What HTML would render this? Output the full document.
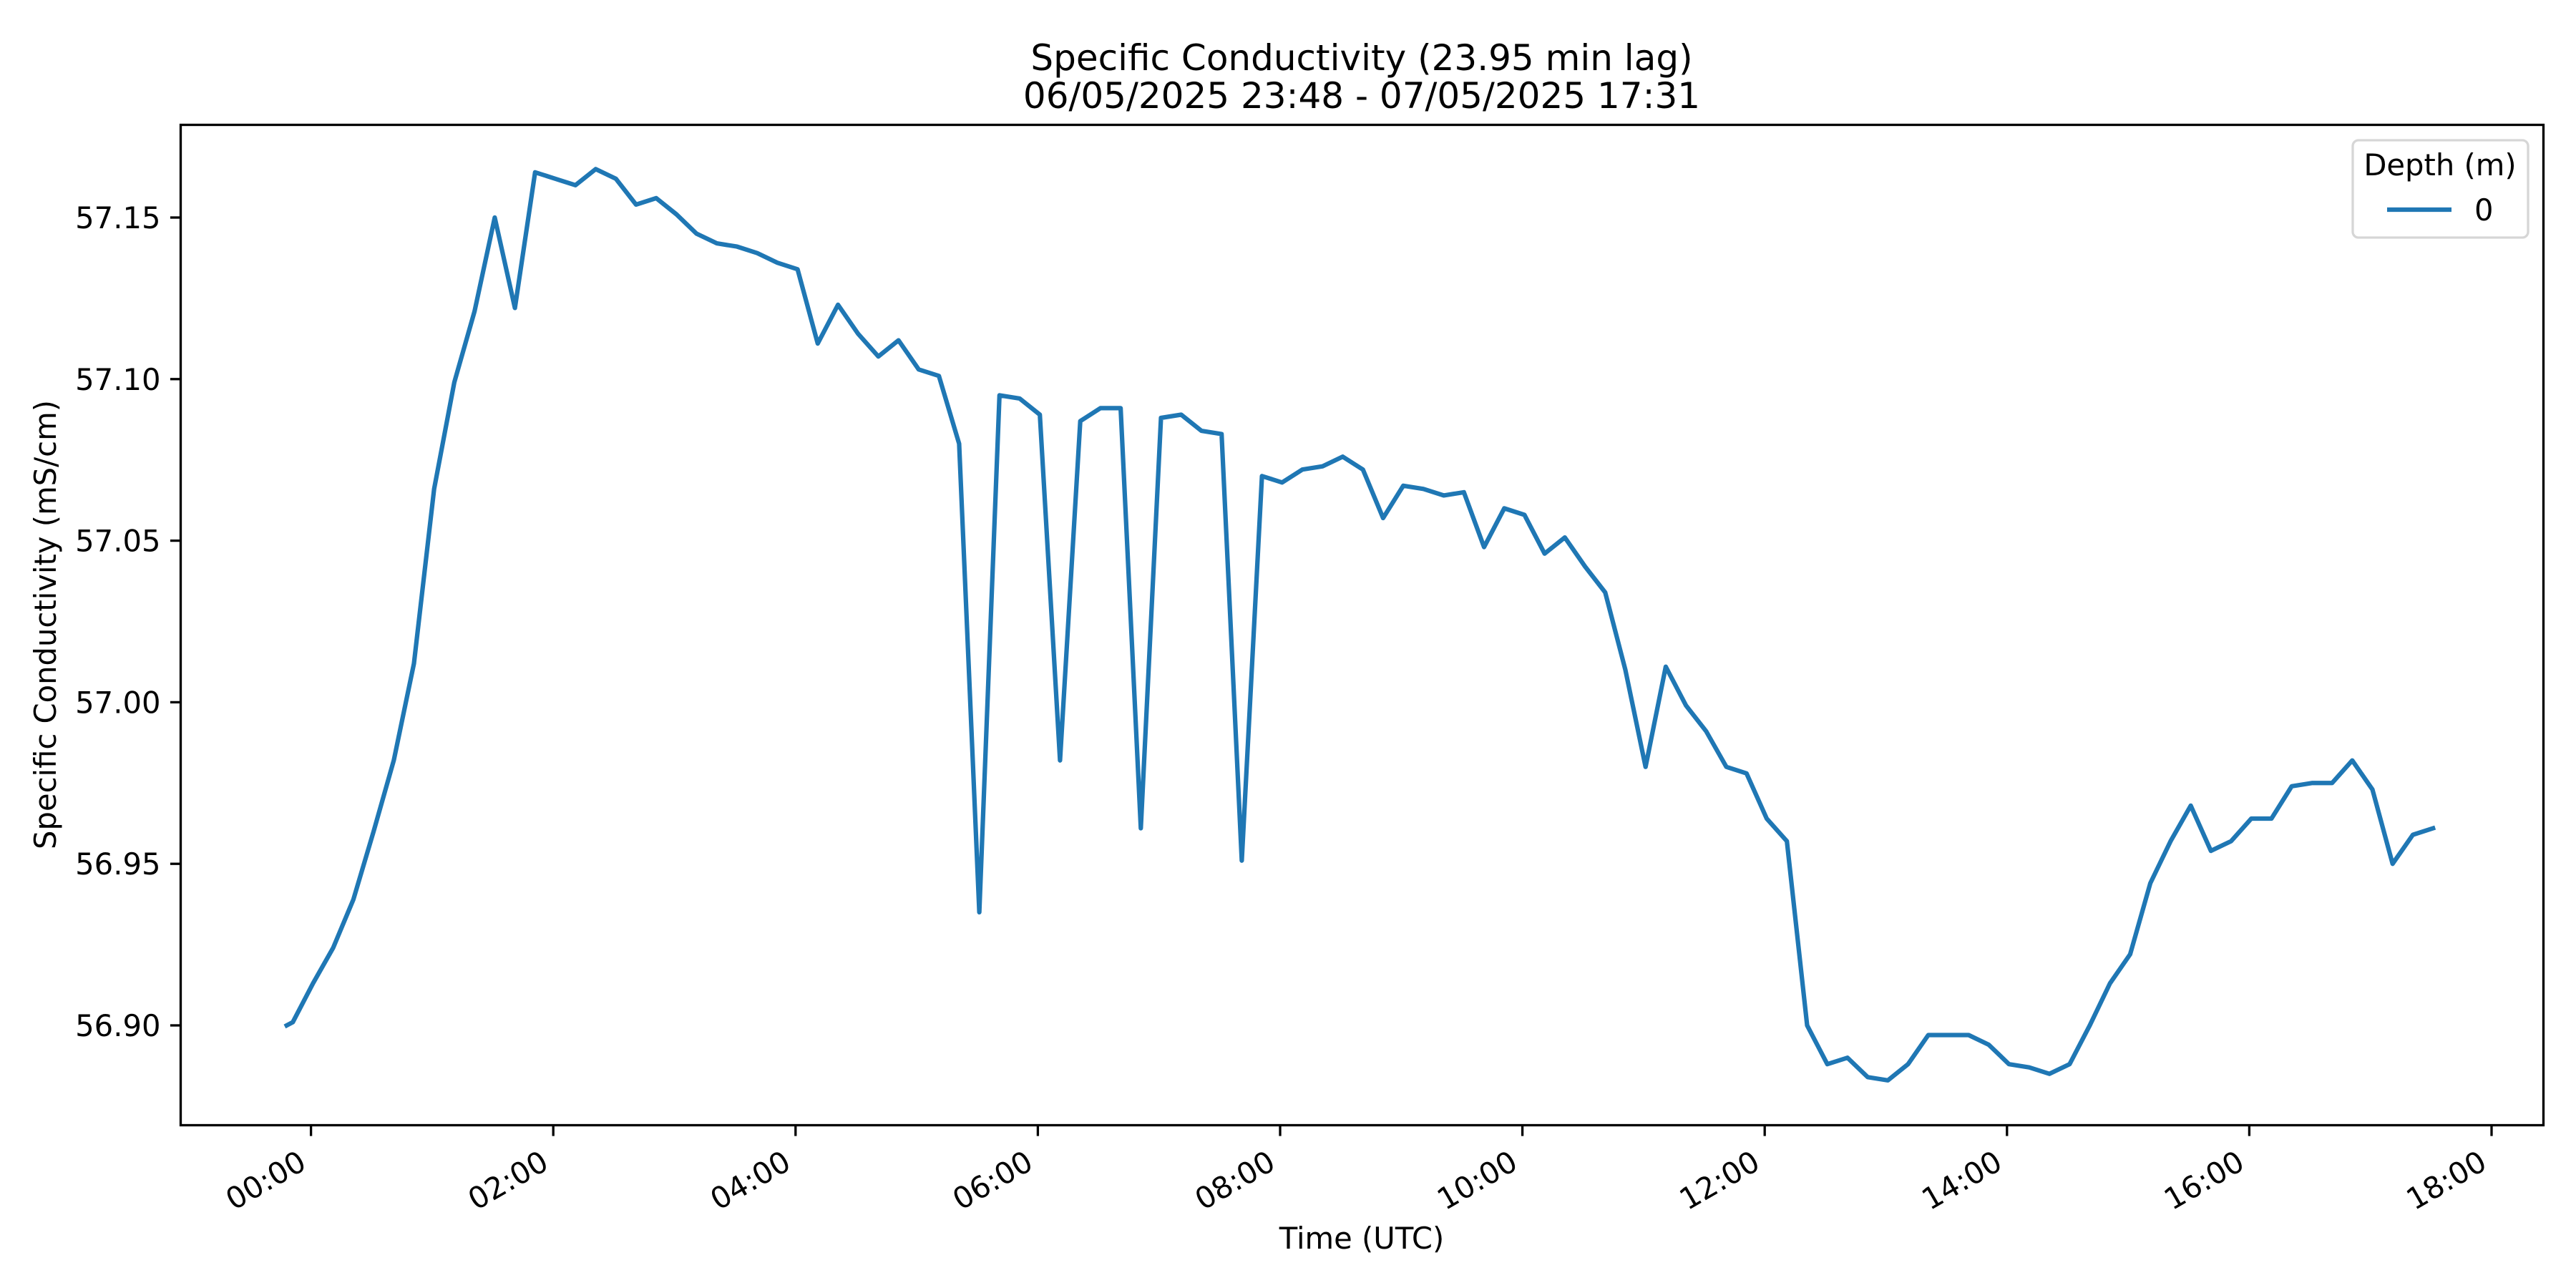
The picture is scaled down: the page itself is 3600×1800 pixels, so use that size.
<!DOCTYPE html>
<html><head><meta charset="utf-8"><style>
html,body{margin:0;padding:0;background:#fff;}
svg{display:block;font-family:"DejaVu Sans","Liberation Sans",sans-serif;}
</style></head><body>
<svg id="chart" width="3600" height="1800" viewBox="0 0 3600 1800" xmlns="http://www.w3.org/2000/svg">
<rect width="3600" height="1800" fill="#fff"/>
<text x="1903" y="98" font-size="50" text-anchor="middle">Specific Conductivity (23.95 min lag)</text>
<text x="1903" y="151" font-size="50" text-anchor="middle">06/05/2025 23:48 - 07/05/2025 17:31</text>
<g id="xticks"></g>
<g id="yticks"></g>
<polyline id="series" fill="none" stroke="#1f77b4" stroke-width="6.25" stroke-linejoin="round" stroke-linecap="square"/>
<rect x="252.5" y="174.5" width="3302" height="1398" fill="none" stroke="#000" stroke-width="3.3"/>
<text x="1903" y="1745" font-size="41.7" text-anchor="middle">Time (UTC)</text>
<text x="0" y="0" font-size="41.7" text-anchor="middle" transform="translate(78,873) rotate(-90)">Specific Conductivity (mS/cm)</text>
<g>
<rect x="3288" y="196" width="245" height="136" rx="8" fill="#fff" fill-opacity="0.8" stroke="#d6d6d6" stroke-width="3.3"/>
<text x="3410" y="245" font-size="41.7" text-anchor="middle">Depth (m)</text>
<line x1="3336" y1="293" x2="3426" y2="293" stroke="#1f77b4" stroke-width="6.25"/>
<text x="3458" y="308" font-size="41.7">0</text>
</g>
</svg>
<script>
const minutes = [-12,-9,1,11,21,31,41,51,61,71,81,91,101,111,121,131,141,151,161,171,181,191,201,211,221,231,241,251,261,271,281,291,301,311,321,331,341,351,361,371,381,391,401,411,421,431,441,451,461,471,481,491,501,511,521,531,541,551,561,571,581,591,601,611,621,631,641,651,661,671,681,691,701,711,721,731,741,751,761,771,781,791,801,811,821,831,841,851,861,871,881,891,901,911,921,931,941,951,961,971,981,991,1001,1011,1021,1031,1041,1051];
const values = [56.900,56.901,56.913,56.924,56.939,56.960,56.982,57.012,57.066,57.099,57.121,57.150,57.122,57.164,57.162,57.160,57.165,57.162,57.154,57.156,57.151,57.145,57.142,57.141,57.139,57.136,57.134,57.111,57.123,57.114,57.107,57.112,57.103,57.101,57.080,56.935,57.095,57.094,57.089,56.982,57.087,57.091,57.091,56.961,57.088,57.089,57.084,57.083,56.951,57.070,57.068,57.072,57.073,57.076,57.072,57.057,57.067,57.066,57.064,57.065,57.048,57.060,57.058,57.046,57.051,57.042,57.034,57.010,56.980,57.011,56.999,56.991,56.980,56.978,56.964,56.957,56.900,56.888,56.890,56.884,56.883,56.888,56.897,56.897,56.897,56.894,56.888,56.887,56.885,56.888,56.900,56.913,56.922,56.944,56.957,56.968,56.954,56.957,56.964,56.964,56.974,56.975,56.975,56.982,56.973,56.950,56.959,56.961];
const xTickHours = [0,2,4,6,8,10,12,14,16,18];
const xTickLabels = ["00:00","02:00","04:00","06:00","08:00","10:00","12:00","14:00","16:00","18:00"];
const yTickValues = [56.90,56.95,57.00,57.05,57.10,57.15];
const yTickLabels = ["56.90","56.95","57.00","57.05","57.10","57.15"];

const NS = "http://www.w3.org/2000/svg";
function xScale(m){ return 434.6 + m * (338.6/120); }
function yScale(v){ return 304 + (57.15 - v) * 4516; }
const AX_BOTTOM = 1573, AX_LEFT = 252.5;

const xg = document.getElementById('xticks');
xTickHours.forEach((h,i)=>{
  const x = xScale(h*60);
  const t = document.createElementNS(NS,'line');
  
  
  t.setAttribute('x1',x); t.setAttribute('x2',x);
  t.setAttribute('y1',AX_BOTTOM); t.setAttribute('y2',AX_BOTTOM+14.6);
  t.setAttribute('stroke','#000'); t.setAttribute('stroke-width','3.3');
  xg.appendChild(t);
  const lb = document.createElementNS(NS,'text');
  
  
  lb.setAttribute('font-size','41.7');
  lb.setAttribute('text-anchor','end');
  lb.setAttribute('transform','translate('+(x-4)+',1632) rotate(-30)');
  lb.textContent = xTickLabels[i];
  xg.appendChild(lb);
});

const yg = document.getElementById('yticks');
yTickValues.forEach((v,i)=>{
  const y = yScale(v);
  const t = document.createElementNS(NS,'line');
  
  
  t.setAttribute('x1',AX_LEFT-14.6); t.setAttribute('x2',AX_LEFT);
  t.setAttribute('y1',y); t.setAttribute('y2',y);
  t.setAttribute('stroke','#000'); t.setAttribute('stroke-width','3.3');
  yg.appendChild(t);
  const lb = document.createElementNS(NS,'text');
  
  
  lb.setAttribute('font-size','41.7');
  lb.setAttribute('text-anchor','end');
  lb.setAttribute('x',AX_LEFT-28);
  lb.setAttribute('y',y+15);
  lb.textContent = yTickLabels[i];
  yg.appendChild(lb);
});

document.getElementById('series').setAttribute('points',
  minutes.map((m,i)=>xScale(m).toFixed(1)+','+yScale(values[i]).toFixed(1)).join(' '));
</script>
</body></html>
